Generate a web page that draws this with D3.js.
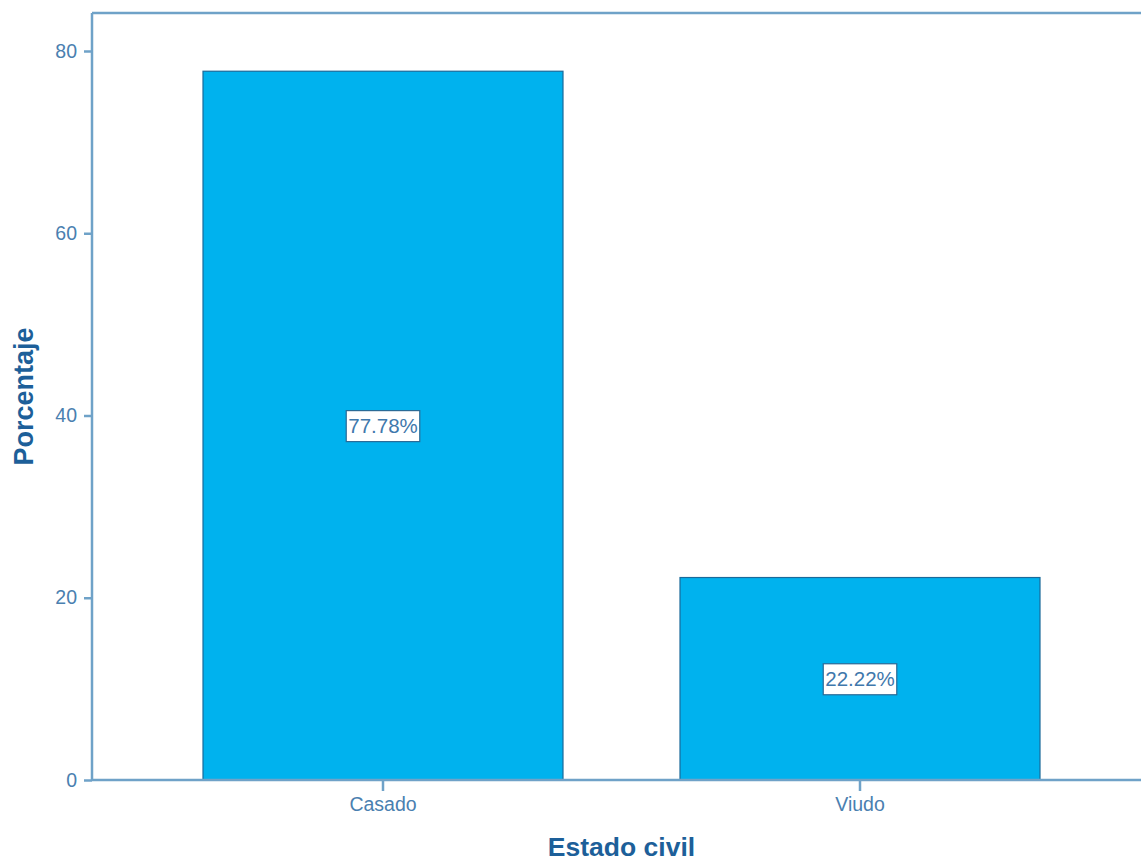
<!DOCTYPE html>
<html>
<head>
<meta charset="utf-8">
<script src="https://cdn.jsdelivr.net/npm/d3@7"></script>
<style>
  html, body { margin: 0; padding: 0; background: #fff; }
  svg { display: block; font-family: "Liberation Sans", Arial, sans-serif; }
</style>
</head>
<body>
<svg id="chart" width="1141" height="862"></svg>
<script>
const categories = ["Casado", "Viudo"];
const percentages = [77.78, 22.22];
const yTicks = [0, 20, 40, 60, 80];
const xTitle = "Estado civil";
const yTitle = "Porcentaje";

(function () {
const svg = d3.select("#chart");
const pLeft = 92, pRight = 1151, pTop = 13, pBottom = 780;

const x = d3.scaleBand().domain(categories).range([pLeft, pRight])
  .paddingInner(0.2453).paddingOuter(0.2327);
const y = d3.scaleLinear().domain([0, 84.17]).range([pBottom, pTop]);

const axisColor = "#6fa2c8";
const labelColor = "#4a80b0";
const titleColor = "#1d5f99";

// top frame line
svg.append("line").attr("x1", pLeft).attr("x2", 1141).attr("y1", pTop).attr("y2", pTop)
  .attr("stroke", axisColor).attr("stroke-width", 2.5);

// bars
const data = categories.map((c, i) => ({ c, v: percentages[i] }));
svg.append("g").selectAll("rect").data(data).join("rect")
  .attr("x", d => x(d.c)).attr("width", x.bandwidth())
  .attr("y", d => y(d.v)).attr("height", d => y(0) - y(d.v))
  .attr("fill", "#00b2ee").attr("stroke", "#1a6a9a").attr("stroke-width", 1.2);

// y axis
const yAxis = svg.append("g").attr("transform", `translate(${pLeft},0)`)
  .call(d3.axisLeft(y).tickValues(yTicks).tickSize(8).tickPadding(7));
yAxis.select(".domain").attr("d", `M0,${pTop}V${pBottom}`).attr("stroke", axisColor).attr("stroke-width", 2.5);
yAxis.selectAll(".tick line").attr("stroke", axisColor).attr("stroke-width", 2.5);
yAxis.selectAll(".tick text").attr("fill", labelColor).attr("font-size", 19.5)
  .attr("font-family", "'Liberation Sans', Arial, sans-serif");

// x axis
const xAxis = svg.append("g").attr("transform", `translate(0,${pBottom})`)
  .call(d3.axisBottom(x).tickSize(11).tickPadding(6));
xAxis.select(".domain").attr("d", `M${pLeft},0H1141`).attr("stroke", axisColor).attr("stroke-width", 2.5);
xAxis.selectAll(".tick line").attr("stroke", axisColor).attr("stroke-width", 2.5);
xAxis.selectAll(".tick text").attr("fill", labelColor).attr("font-size", 19.5)
  .attr("font-family", "'Liberation Sans', Arial, sans-serif");

// value labels
const lg = svg.append("g").selectAll("g").data(data).join("g")
  .attr("transform", d => `translate(${x(d.c) + x.bandwidth() / 2},${y(d.v / 2)})`);
lg.each(function (d) {
  const g = d3.select(this);
  const t = g.append("text").text(d.v.toFixed(2) + "%")
    .attr("text-anchor", "middle").attr("dy", "0.36em")
    .attr("font-size", 20.5).attr("fill", "#3f78ac");
  const bb = t.node().getBBox();
  g.insert("rect", "text")
    .attr("x", bb.x - 2).attr("y", -15).attr("width", bb.width + 4).attr("height", 31)
    .attr("fill", "#fff").attr("stroke", "#2a6a96").attr("stroke-width", 1.2);
});

// titles
svg.append("text").text(xTitle).attr("x", (pLeft + pRight) / 2).attr("y", 856)
  .attr("text-anchor", "middle").attr("font-size", 26.5).attr("font-weight", "bold").attr("fill", titleColor);
svg.append("text").text(yTitle)
  .attr("transform", `translate(33,${(pTop + pBottom) / 2}) rotate(-90)`)
  .attr("text-anchor", "middle").attr("font-size", 27).attr("font-weight", "bold").attr("fill", titleColor);
})();
</script>
</body>
</html>
